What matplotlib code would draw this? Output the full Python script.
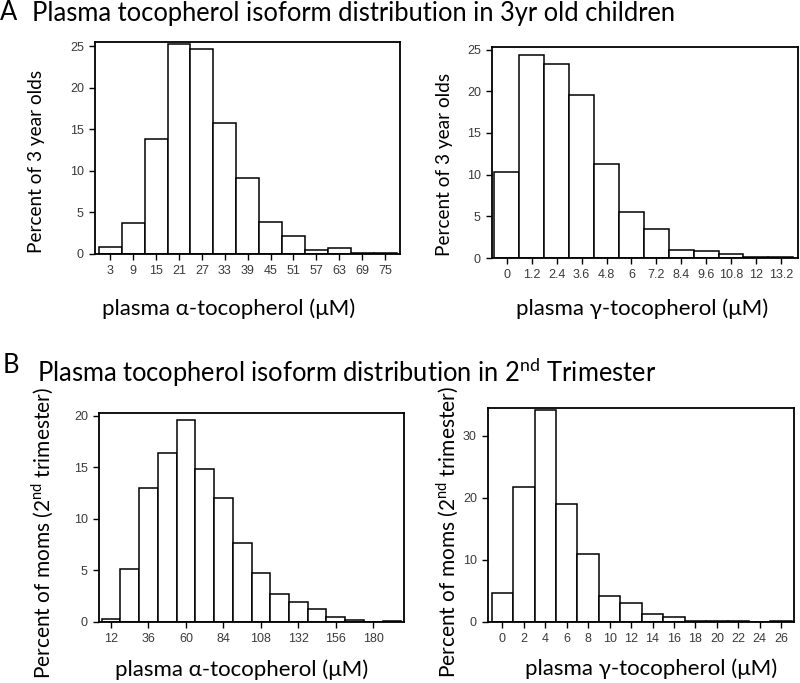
import matplotlib
matplotlib.use("Agg")
import matplotlib.pyplot as plt

plt.rcParams['font.family'] = ['Lato', 'Noto Sans', 'DejaVu Sans']
plt.rcParams['mathtext.fontset'] = 'custom'
plt.rcParams['mathtext.rm'] = 'Lato'

# ---- data ----
a_alpha_centers = [3, 9, 15, 21, 27, 33, 39, 45, 51, 57, 63, 69, 75]
a_alpha_pct = [0.8, 3.7, 13.8, 25.2, 24.6, 15.8, 9.2, 3.9, 2.2, 0.5, 0.7, 0.15, 0.15]
a_alpha_ticks = [3, 9, 15, 21, 27, 33, 39, 45, 51, 57, 63, 69, 75]

a_gamma_centers = [0, 1.2, 2.4, 3.6, 4.8, 6, 7.2, 8.4, 9.6, 10.8, 12, 13.2]
a_gamma_pct = [10.3, 24.3, 23.3, 19.6, 11.3, 5.5, 3.5, 0.95, 0.8, 0.45, 0.15, 0.12]
a_gamma_ticks = [0, 1.2, 2.4, 3.6, 4.8, 6, 7.2, 8.4, 9.6, 10.8, 12, 13.2]
a_gamma_ticklabels = ['0', '1.2', '2.4', '3.6', '4.8', '6', '7.2', '8.4', '9.6', '10.8', '12', '13.2']

b_alpha_centers = [12, 24, 36, 48, 60, 72, 84, 96, 108, 120, 132, 144, 156, 168, 180, 192]
b_alpha_pct = [0.25, 5.1, 13.0, 16.4, 19.6, 14.8, 12.0, 7.7, 4.7, 2.75, 1.95, 1.25, 0.45, 0.2, 0.0, 0.1]
b_alpha_ticks = [12, 36, 60, 84, 108, 132, 156, 180]

b_gamma_centers = [0, 2, 4, 6, 8, 10, 12, 14, 16, 18, 20, 22, 24, 26]
b_gamma_pct = [4.7, 21.7, 34.1, 19.05, 10.95, 4.13, 3.06, 1.34, 0.8, 0.2, 0.2, 0.1, 0.0, 0.1]
b_gamma_ticks = [0, 2, 4, 6, 8, 10, 12, 14, 16, 18, 20, 22, 24, 26]

W, H = 800, 683
fig = plt.figure(figsize=(W / 100, H / 100), dpi=100)


def ax_px(l, t, r, b):
    return fig.add_axes([l / W, 1 - b / H, (r - l) / W, (b - t) / H])


def style(ax, xlim, ylim, yticks):
    ax.set_xlim(*xlim)
    ax.set_ylim(*ylim)
    ax.set_yticks(yticks)
    for s in ax.spines.values():
        s.set_linewidth(1.3)
        s.set_color('black')
    ax.tick_params(axis='both', direction='out', length=4, width=1.0,
                   color='black', labelcolor='#3a3a3a', labelsize=9, pad=4)
    for lab in ax.get_xticklabels() + ax.get_yticklabels():
        lab.set_family(['Liberation Sans', 'DejaVu Sans'])


def bars(ax, centers, vals, width):
    ax.bar(centers, vals, width=width, color='white', edgecolor='black',
           linewidth=1.1, align='center')


# A left
ax1 = ax_px(95, 42, 400, 254)
bars(ax1, a_alpha_centers, a_alpha_pct, 6)
ax1.set_xticks(a_alpha_ticks)
style(ax1, (-1.0, 78.9), (0, 25.5), [0, 5, 10, 15, 20, 25])

# A right
ax2 = ax_px(492, 47, 798, 258)
bars(ax2, a_gamma_centers, a_gamma_pct, 1.2)
ax2.set_xticks(a_gamma_ticks)
ax2.set_xticklabels(a_gamma_ticklabels)
style(ax2, (-0.72, 14.03), (0, 25.3), [0, 5, 10, 15, 20, 25])

# B left
ax3 = ax_px(99, 413, 404, 622)
bars(ax3, b_alpha_centers, b_alpha_pct, 12)
ax3.set_xticks(b_alpha_ticks)
style(ax3, (4.3, 199.7), (0, 20.25), [0, 5, 10, 15, 20])

# B right
ax4 = ax_px(488, 408, 794, 622)
bars(ax4, b_gamma_centers, b_gamma_pct, 2)
ax4.set_xticks(b_gamma_ticks)
style(ax4, (-1.35, 27.2), (0, 34.45), [0, 10, 20, 30])


def ftext(x, y, s, **kw):
    fig.text(x / W, 1 - y / H, s, **kw)


# titles
ftext(0, 20.5, 'A', fontsize=18.4, va='baseline', ha='left')
ftext(31.7, 21, 'Plasma tocopherol isoform distribution in 3yr old children',
      fontsize=18.4, va='baseline', ha='left')
ftext(3, 373, 'B', fontsize=18.4, va='baseline', ha='left')
ftext(36.7, 381.7, r'Plasma tocopherol isoform distribution in 2$^{\mathrm{nd}}$ Trimester',
      fontsize=18.4, va='baseline', ha='left')

# x labels
ftext(229, 315, 'plasma α-tocopherol (μM)', fontsize=16, ha='center', va='baseline')
ftext(641.7, 315, 'plasma γ-tocopherol (μM)', fontsize=16, ha='center', va='baseline')
ftext(241.7, 676, 'plasma α-tocopherol (μM)', fontsize=16, ha='center', va='baseline')
ftext(650.7, 675, 'plasma γ-tocopherol (μM)', fontsize=16, ha='center', va='baseline')

# y labels
ftext(37, 161, 'Percent of 3 year olds', fontsize=13.7, rotation=90, ha='center', va='center')
ftext(444, 164, 'Percent of 3 year olds', fontsize=13.7, rotation=90, ha='center', va='center')
ftext(42.5, 533, r'Percent of moms (2$^{\mathrm{nd}}$ trimester)', fontsize=15.0,
      rotation=90, ha='center', va='center')
ftext(447.5, 532, r'Percent of moms (2$^{\mathrm{nd}}$ trimester)', fontsize=15.0,
      rotation=90, ha='center', va='center')

fig.savefig('out.png', dpi=100)
